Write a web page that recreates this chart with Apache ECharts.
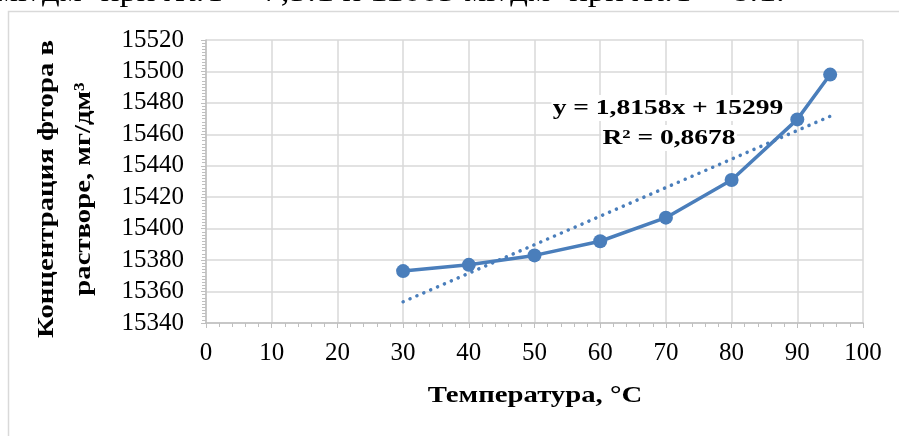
<!DOCTYPE html>
<html>
<head>
<meta charset="utf-8">
<script src="https://cdn.jsdelivr.net/npm/echarts@6/dist/echarts.min.js"></script>
<style>
  html, body { margin: 0; padding: 0; background: #fff; }
  #chart { width: 899px; height: 436px; }
</style>
</head>
<body>
<div id="chart"></div>
<script>
// температура, °C
const temps = [30, 40, 50, 60, 70, 80, 90, 95]
// концентрация фтора, мг/дм3
const conc = [15373, 15377, 15383, 15392, 15407, 15431, 15469.5, 15498]
// линия тренда (y = 1,8158x + 15299), концы при 30 и 95
const trendX = [30, 95]
const trendY = [15353.5, 15471.5]
const trendText = ['y = 1,8158x + 15299', 'R² = 0,8678']

const font = '"Liberation Serif", "Times New Roman", serif'
const blue = '#4a7ebb'

const chart = echarts.init(document.getElementById('chart'))

// подписи в исходнике растянуты по ширине
const stretched = (x, y, text, size, extra) => ({
  type: 'text',
  x: x,
  y: y,
  scaleX: 1.25,
  z: 100,
  ...extra,
  style: {
    text: text,
    font: 'bold ' + size + 'px ' + font,
    fill: '#000',
    align: 'center',
    verticalAlign: 'middle',
    ...((extra && extra.style) || {})
  }
})

const option = {
  animation: false,
  textStyle: { fontFamily: font },
  grid: { left: 206, right: 36, top: 40, bottom: 113 },
  xAxis: {
    type: 'value',
    min: 0,
    max: 100,
    interval: 10,
    axisLine: { lineStyle: { color: '#bfbfbf', width: 1.5 } },
    axisTick: { show: true, length: 5, lineStyle: { color: '#bfbfbf' } },
    minorTick: { show: true, splitNumber: 5, length: 4, lineStyle: { color: '#bfbfbf' } },
    splitLine: { show: true, lineStyle: { color: '#d9d9d9', width: 1.5 } },
    axisLabel: { fontSize: 25, color: '#000', margin: 18, fontFamily: font }
  },
  yAxis: {
    type: 'value',
    min: 15340,
    max: 15520,
    interval: 20,
    axisLine: { show: true, lineStyle: { color: '#bfbfbf', width: 1.5 } },
    axisTick: { show: true, length: 5, lineStyle: { color: '#bfbfbf' } },
    minorTick: { show: true, splitNumber: 10, length: 4, lineStyle: { color: '#bfbfbf' } },
    splitLine: { show: true, lineStyle: { color: '#d9d9d9', width: 1.5 } },
    axisLabel: {
      fontSize: 25,
      color: '#000',
      margin: 22,
      fontFamily: font,
      formatter: v => String(v)
    }
  },
  series: [
    {
      name: 'trend',
      type: 'line',
      data: trendX.map((x, i) => [x, trendY[i]]),
      symbol: 'none',
      lineStyle: { color: blue, width: 3.5, type: [0.1, 7.4], cap: 'round' },
      z: 1
    },
    {
      name: 'conc',
      type: 'line',
      data: temps.map((t, i) => [t, conc[i]]),
      symbol: 'circle',
      symbolSize: 14,
      itemStyle: { color: blue },
      lineStyle: { color: blue, width: 3.5 },
      z: 2
    }
  ],
  graphic: [
    {
      type: 'rect',
      shape: { x: 8.5, y: 11.5, width: 1000, height: 600 },
      style: { fill: 'none', stroke: '#d9d9d9', lineWidth: 1.5 },
      silent: true
    },
    {
      type: 'text',
      x: -4,
      y: -21,
      scaleX: 1.2,
      style: {
        text: 'мг/дм³ при Ж:Т = 7,5:1 и 11003 мг/дм³ при Ж:Т = 8:1.',
        font: '29px ' + font,
        fill: '#000'
      }
    },
    stretched(668, 108, trendText[0], 22, { style: { backgroundColor: '#fff', padding: [2, 1] } }),
    stretched(669, 138, trendText[1], 22, { style: { backgroundColor: '#fff', padding: [2, 1] } }),
    stretched(535, 396, 'Температура, °C', 23),
    stretched(47, 189, 'Концентрация фтора в', 23, { rotation: Math.PI / 2 }),
    stretched(84, 189, 'растворе, мг/дм³', 23, { rotation: Math.PI / 2 })
  ]
}

chart.setOption(option)
</script>
</body>
</html>
